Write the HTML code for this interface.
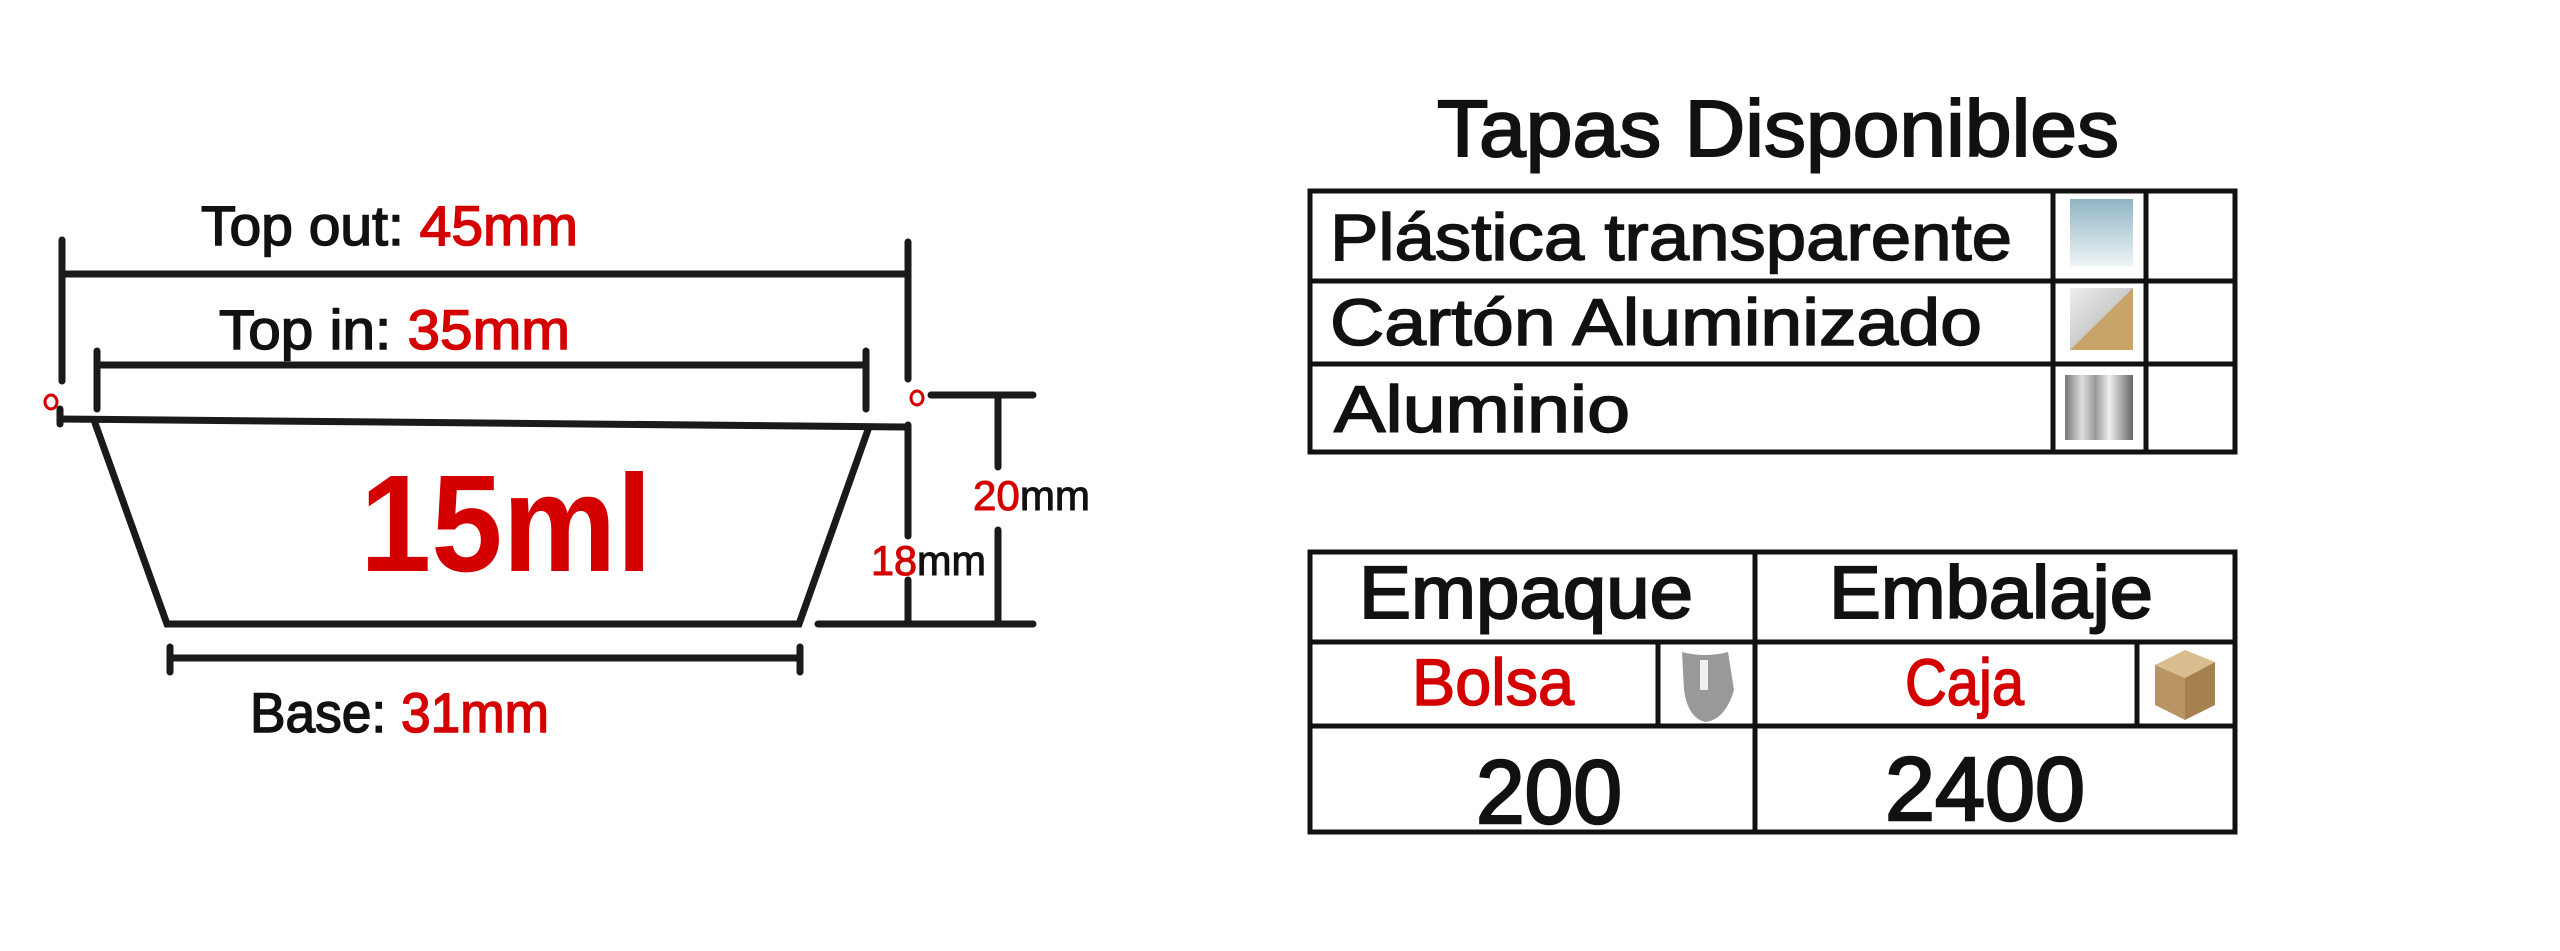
<!DOCTYPE html>
<html><head><meta charset="utf-8"><style>html,body{margin:0;padding:0;background:#fff}svg{display:block}</style></head>
<body>
<svg width="2560" height="951" viewBox="0 0 2560 951" xmlns="http://www.w3.org/2000/svg" font-family="Liberation Sans, sans-serif">
<defs>
<linearGradient id="g1" x1="0" y1="0" x2="0" y2="1"><stop offset="0" stop-color="#8fb4c4"/><stop offset="1" stop-color="#eef4f6"/></linearGradient>
<linearGradient id="g3" x1="0" y1="0" x2="1" y2="0"><stop offset="0" stop-color="#777"/><stop offset="0.25" stop-color="#ddd"/><stop offset="0.45" stop-color="#999"/><stop offset="0.65" stop-color="#eee"/><stop offset="1" stop-color="#666"/></linearGradient>
<linearGradient id="g2" x1="0" y1="0" x2="1" y2="1"><stop offset="0" stop-color="#eee"/><stop offset="1" stop-color="#aaa"/></linearGradient>
</defs>
<g stroke="#1a1a1a" stroke-width="7" fill="none" stroke-linecap="round">
<line x1="62" y1="274" x2="908" y2="274"/>
<line x1="62" y1="240" x2="62" y2="381"/>
<line x1="908" y1="242" x2="908" y2="379"/>
<line x1="97" y1="365" x2="866" y2="365"/>
<line x1="97" y1="351" x2="97" y2="409"/>
<line x1="866" y1="351" x2="866" y2="409"/>
<line x1="60" y1="419" x2="906" y2="427"/>
<line x1="60" y1="409" x2="60" y2="424"/>
<polyline points="95,423 167,624 799,624 869,427"/>
<line x1="170" y1="658" x2="800" y2="658"/>
<line x1="170" y1="647" x2="170" y2="672"/>
<line x1="800" y1="647" x2="800" y2="672"/>
<line x1="908" y1="425" x2="908" y2="536"/>
<line x1="908" y1="580" x2="908" y2="624"/>
<line x1="931" y1="395" x2="1033" y2="395"/>
<line x1="998" y1="395" x2="998" y2="467"/>
<line x1="998" y1="530" x2="998" y2="624"/>
<line x1="818" y1="624" x2="1033" y2="624"/>
</g>
<g fill="none" stroke="#d40000" stroke-width="3"><ellipse cx="51" cy="402" rx="6" ry="7"/><ellipse cx="917" cy="398" rx="6" ry="7"/></g>
<g font-size="56" fill="#111" stroke="#111" stroke-width="1.5">
<text x="201" y="245" textLength="377" lengthAdjust="spacingAndGlyphs">Top out: <tspan fill="#d40000" stroke="#d40000">45mm</tspan></text>
<text x="219" y="349" textLength="351" lengthAdjust="spacingAndGlyphs">Top in:  <tspan fill="#d40000" stroke="#d40000">35mm</tspan></text>
<text x="250" y="732" textLength="299" lengthAdjust="spacingAndGlyphs">Base: <tspan fill="#d40000" stroke="#d40000">31mm</tspan></text>
</g>
<g font-size="42" fill="#111" stroke="#111" stroke-width="1">
<text x="871" y="575" textLength="115" lengthAdjust="spacingAndGlyphs"><tspan fill="#d40000" stroke="#d40000">18</tspan>mm</text>
<text x="973" y="510" textLength="117" lengthAdjust="spacingAndGlyphs"><tspan fill="#d40000" stroke="#d40000">20</tspan>mm</text>
</g>
<text x="360" y="571" font-size="138" font-weight="bold" fill="#d40000" textLength="292" lengthAdjust="spacingAndGlyphs">15ml</text>

<text x="1437" y="156" font-size="80" fill="#111" stroke="#111" stroke-width="2" textLength="682" lengthAdjust="spacingAndGlyphs">Tapas Disponibles</text>
<g stroke="#111" stroke-width="5" fill="none">
<rect x="1310" y="191" width="925" height="261"/>
<line x1="1310" y1="281" x2="2235" y2="281"/>
<line x1="1310" y1="364" x2="2235" y2="364"/>
<line x1="2053" y1="191" x2="2053" y2="452"/>
<line x1="2146" y1="191" x2="2146" y2="452"/>
<rect x="1310" y="552" width="925" height="280"/>
<line x1="1310" y1="642" x2="2235" y2="642"/>
<line x1="1310" y1="726" x2="2235" y2="726"/>
<line x1="1755" y1="552" x2="1755" y2="832"/>
<line x1="1658" y1="642" x2="1658" y2="726"/>
<line x1="2137" y1="642" x2="2137" y2="726"/>
</g>
<g font-size="66" fill="#111" stroke="#111" stroke-width="1.5">
<text x="1330" y="260" textLength="682" lengthAdjust="spacingAndGlyphs">Plástica transparente</text>
<text x="1330" y="345" textLength="652" lengthAdjust="spacingAndGlyphs">Cartón Aluminizado</text>
<text x="1334" y="432" textLength="296" lengthAdjust="spacingAndGlyphs">Aluminio</text>
</g>
<rect x="2070" y="199" width="63" height="67" fill="url(#g1)"/>
<rect x="2070" y="288" width="63" height="62" fill="url(#g2)"/>
<polygon points="2133,288 2133,350 2070,350" fill="#c8a46a"/>
<rect x="2065" y="375" width="68" height="65" fill="url(#g3)"/>
<g font-size="74" fill="#111" stroke="#111" stroke-width="2">
<text x="1359" y="618" textLength="334" lengthAdjust="spacingAndGlyphs">Empaque</text>
<text x="1829" y="618" textLength="324" lengthAdjust="spacingAndGlyphs">Embalaje</text>
</g>
<g font-size="66" fill="#d40000" stroke="#d40000" stroke-width="1.5">
<text x="1412" y="705" textLength="162" lengthAdjust="spacingAndGlyphs">Bolsa</text>
<text x="1905" y="705" textLength="119" lengthAdjust="spacingAndGlyphs">Caja</text>
</g>
<g font-size="90" fill="#111" stroke="#111" stroke-width="2.5">
<text x="1476" y="823" textLength="146" lengthAdjust="spacingAndGlyphs">200</text>
<text x="1885" y="820" textLength="200" lengthAdjust="spacingAndGlyphs">2400</text>
</g>
<path d="M1682,652 Q1705,658 1728,652 L1734,690 Q1725,720 1705,722 Q1688,718 1684,690 Z" fill="#999"/>
<rect x="1700" y="660" width="8" height="30" fill="#eee"/>
<polygon points="2155,665 2185,650 2215,662 2185,678" fill="#d9bd8e"/>
<polygon points="2155,665 2185,678 2185,720 2155,705" fill="#b89563"/>
<polygon points="2185,678 2215,662 2215,705 2185,720" fill="#a5814f"/>
</svg>
</body></html>
